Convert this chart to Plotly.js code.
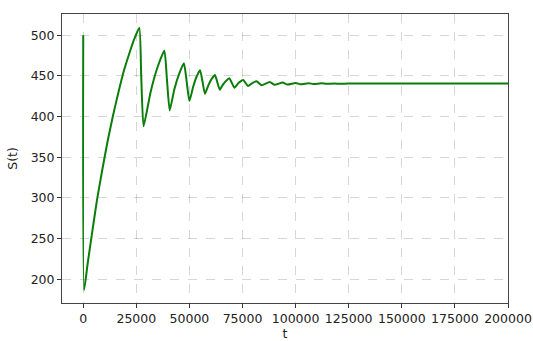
<!DOCTYPE html>
<html>
<head>
<meta charset="utf-8">
<script src="https://cdn.plot.ly/plotly-3.0.1.min.js"></script>
<style>html,body{margin:0;padding:0;background:#fff;}#chart{width:533px;height:341px;}</style>
</head>
<body>
<div id="chart"></div>
<script>
// time values (t) and S(t) values
const tValues = [0, 400, 2000, 4000, 6500, 9000, 11500, 14000, 16500, 19000, 21500, 24000, 26400,
  27300, 28400, 31700, 34900, 38200,
  39400, 40700, 42900, 45200, 47400,
  48700, 50000, 51700, 53300, 55000,
  56150, 57300, 58900, 60400, 62000,
  63150, 64300, 65800, 67300, 68800,
  71200, 73200, 75300,
  77600, 79600, 81600,
  83900, 87800, 90100, 93900, 96200, 100000, 102300, 106100, 108400,
  112200, 114500, 118300, 120600, 125000, 150000, 200000];
const sValues = [500, 187, 218, 254, 298, 335, 370, 401, 429, 455, 476, 495, 509,
  450, 388, 430, 460, 481,
  446, 407.5, 433.6, 452.7, 465.5,
  443, 419, 436, 448.6, 457,
  443, 428, 438.4, 446, 451,
  442, 433, 439.3, 444, 447,
  435.5, 441.5, 445,
  437.5, 441.2, 443.5,
  438.5, 442.5, 439, 441.8, 439.4, 441.3, 439.7, 441, 440,
  440.8, 440.2, 440.6, 440.3, 440.5, 440.5, 440.5];
const xTicks = [0, 25000, 50000, 75000, 100000, 125000, 150000, 175000, 200000];
const yTicks = [200, 250, 300, 350, 400, 450, 500];

const font = {family: 'DejaVu Sans, sans-serif', size: 12.5, color: '#222'};
const axisCommon = {
  showline: true, mirror: true, linecolor: '#444', linewidth: 1,
  ticks: 'outside', ticklen: 4, tickwidth: 1, tickcolor: '#333',
  showgrid: true, gridcolor: 'rgba(0,0,0,0.2)', griddash: 'dash', gridwidth: 0.8,
  zeroline: false, tickfont: font
};

const trace = {
  x: tValues, y: sValues, type: 'scatter', mode: 'lines',
  line: {color: '#0a7d0a', width: 2, shape: 'spline', smoothing: 0.5}, hoverinfo: 'skip'
};

const layout = {
  width: 533, height: 341,
  margin: {l: 62, r: 25, t: 14, b: 38},
  paper_bgcolor: '#fff', plot_bgcolor: '#fff',
  showlegend: false, font: font,
  xaxis: Object.assign({}, axisCommon, {
    range: [-10000, 200000], tickvals: xTicks, ticktext: xTicks.map(String),
    title: {text: 't', font: font, standoff: 4}
  }),
  yaxis: Object.assign({}, axisCommon, {
    range: [171, 526], tickvals: yTicks, ticktext: yTicks.map(String),
    title: {text: 'S(t)', font: font, standoff: 10}
  })
};

Plotly.newPlot('chart', [trace], layout, {displayModeBar: false, staticPlot: true});
</script>
</body>
</html>
